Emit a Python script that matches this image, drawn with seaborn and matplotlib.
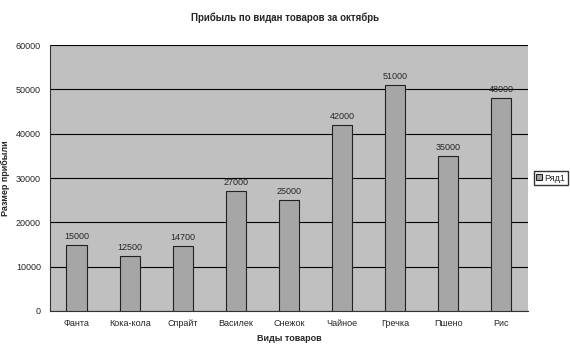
import seaborn as sns
import matplotlib.pyplot as plt
import pandas as pd

categories = ["Фанта", "Кока-кола", "Спрайт", "Василек", "Снежок",
              "Чайное", "Гречка", "Пшено", "Рис"]
profit = [15000, 12500, 14700, 27000, 25000, 42000, 51000, 35000, 48000]
y_ticks = [0, 10000, 20000, 30000, 40000, 50000, 60000]

df = pd.DataFrame({"cat": categories, "val": profit})

sns.set_style("white")
plt.rcParams['font.family'] = ['Liberation Sans', 'DejaVu Sans']

fig = plt.figure(figsize=(5.7, 3.52), dpi=100)
ax = fig.add_axes([0.0877, 0.1165, 0.8385, 0.7555])
ax.set_facecolor("#c0c0c0")

sns.barplot(data=df, x="cat", y="val", color="#a6a6a6", saturation=1,
            width=0.38, edgecolor="#222222", linewidth=0.8, ax=ax, zorder=3,
            label="Ряд1")

ax.set_ylim(0, 60000)
ax.set_yticks(y_ticks)
ax.yaxis.grid(True, color="black", linewidth=0.8)
ax.set_axisbelow(True)
ax.set_xlim(-0.5, len(categories) - 0.5)
for s in ["top", "right"]:
    ax.spines[s].set_visible(False)
ax.spines["left"].set_color("#333333")
ax.spines["bottom"].set_color("#333333")
ax.tick_params(axis="both", labelsize=6.5, length=3, direction="out", color="#333333")
ax.set_xticks([i + 0.5 for i in range(len(categories) - 1)], minor=True)
ax.tick_params(axis="x", which="major", length=0, pad=6)
ax.tick_params(axis="x", which="minor", length=3, color="#333333")

for i, v in enumerate(profit):
    ax.text(i, v + 900, str(v), ha="center", va="bottom", fontsize=6.5)

ax.set_xlabel("Виды товаров", fontsize=6.5, fontweight="bold", labelpad=4)
ax.set_ylabel("Размер прибыли", fontsize=6.5, fontweight="bold", labelpad=4)
fig.text(0.5, 0.94, "Прибыль по видан товаров за октябрь", ha="center",
         fontsize=7, fontweight="bold")

ax.legend(loc="center left", bbox_to_anchor=(1.012, 0.5), fontsize=6.5,
          frameon=True, fancybox=False, edgecolor="black", handlelength=0.6,
          handleheight=0.6, handletextpad=0.3, borderpad=0.3, borderaxespad=0)

fig.savefig("out.png", dpi=100)
